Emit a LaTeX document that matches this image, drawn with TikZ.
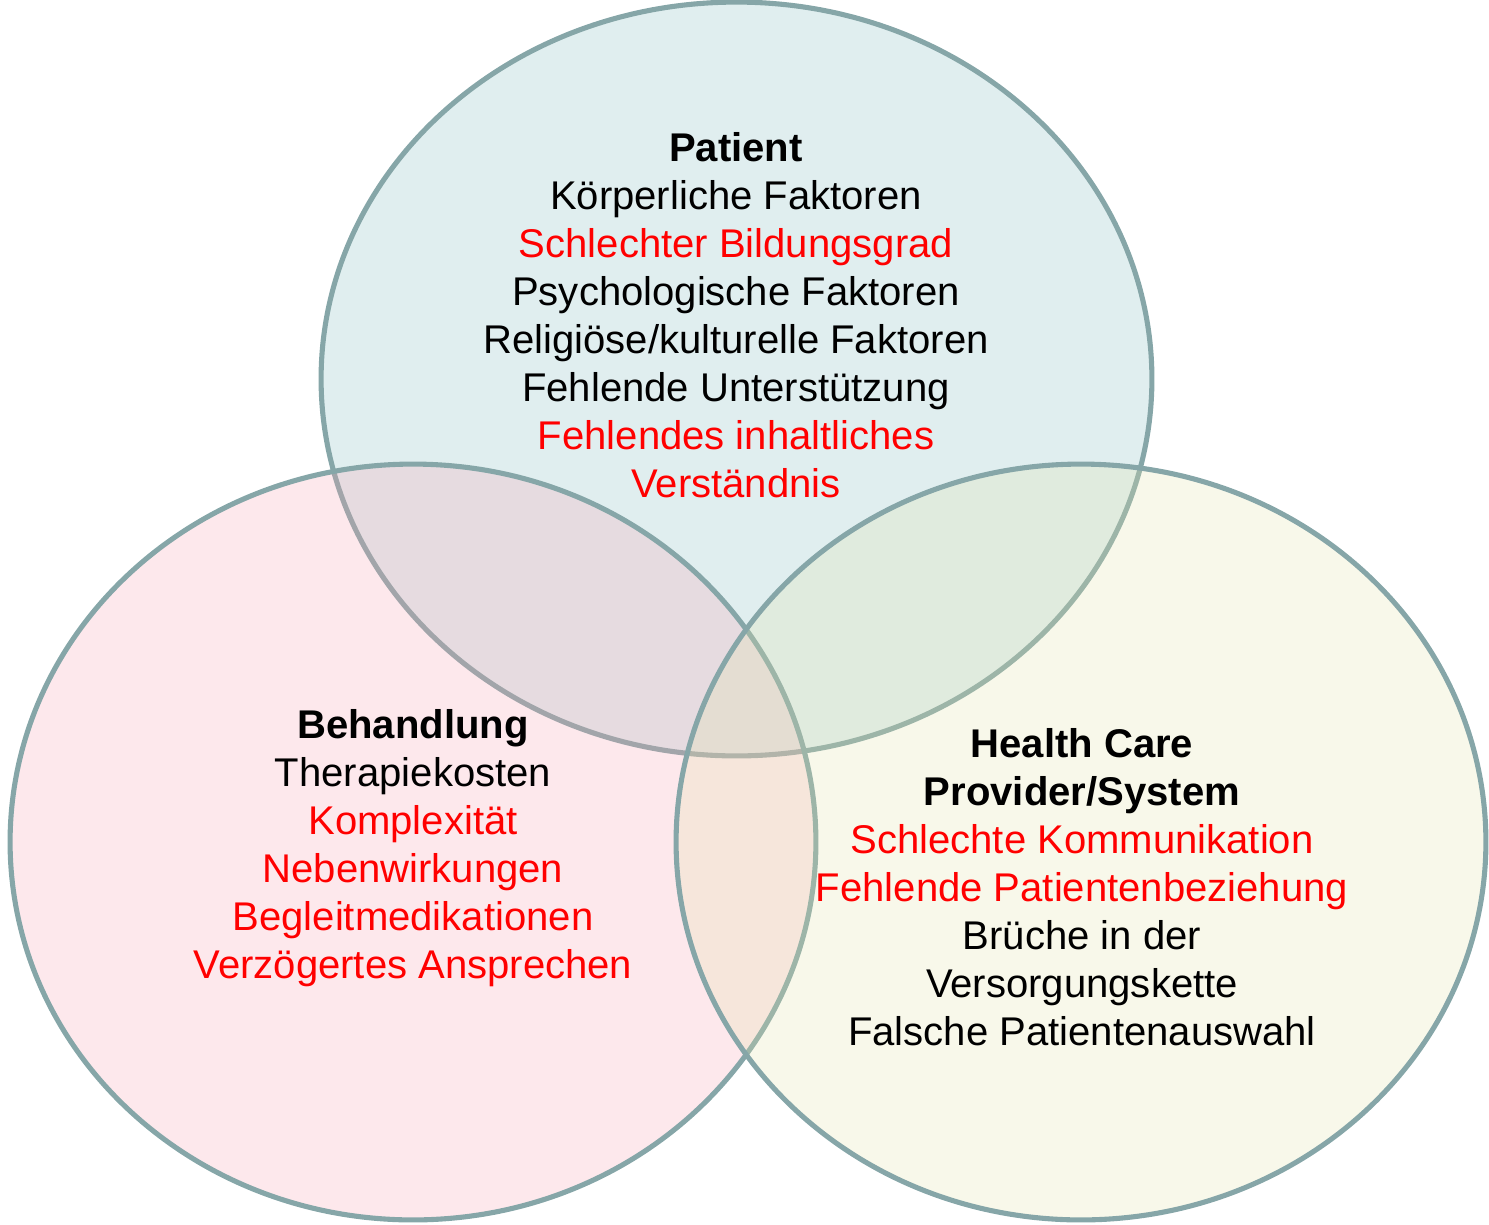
\documentclass[tikz,border=0pt]{standalone}
\usepackage{fontspec}
\setmainfont{Liberation Sans}
\usepackage{tikz}
\usetikzlibrary{shapes.geometric}

\definecolor{rim}{RGB}{134,166,168}
\definecolor{patientfill}{RGB}{131,187,191}
\definecolor{therapyfill}{RGB}{247,163,179}
\definecolor{systemfill}{RGB}{227,227,171}
\definecolor{factorred}{RGB}{255,0,0}

\begin{document}
\begin{tikzpicture}[x=0.02cm,y=-0.02cm,
    set/.style={ellipse, draw=rim, line width=2.9pt, fill opacity=0.25, draw opacity=1, inner sep=0pt},
    factors/.style={align=center, font=\fontsize{22.8}{27.3}\selectfont},
  ]
        \useasboundingbox (0,0) rectangle (1489,1225);
        \node[set, fill=patientfill, minimum width=16.62cm, minimum height=15.08cm] (patient) at (736.5,379) {};
        \node[set, fill=therapyfill, minimum width=16.12cm, minimum height=15.12cm] (therapy) at (413,842) {};
        \node[set, fill=systemfill, minimum width=16.2cm, minimum height=15.12cm] (system) at (1081,842) {};

        \node[factors] (patienttext) at (736,315) {%
          \textbf{Patient}\\
          Körperliche Faktoren\\
          \textcolor{factorred}{Schlechter Bildungsgrad}\\
          Psychologische Faktoren\\
          Religiöse/kulturelle Faktoren\\
          Fehlende Unterstützung\\
          \textcolor{factorred}{Fehlendes inhaltliches}\\
          \textcolor{factorred}{Verständnis}};
        \node[factors] (therapytext) at (413,848) {%
          \textbf{Behandlung}\\
          Therapiekosten\\
          \textcolor{factorred}{Komplexität}\\
          \textcolor{factorred}{Nebenwirkungen}\\
          \textcolor{factorred}{Begleitmedikationen}\\
          \textcolor{factorred}{Verzögertes Ansprechen}};
        \node[factors] (systemtext) at (1082,887) {%
          \textbf{Health Care}\\
          \textbf{Provider/System}\\
          \textcolor{factorred}{Schlechte Kommunikation}\\
          \textcolor{factorred}{Fehlende Patientenbeziehung}\\
          Brüche in der\\
          Versorgungskette\\
          Falsche Patientenauswahl};
      \end{tikzpicture}
\end{document}
